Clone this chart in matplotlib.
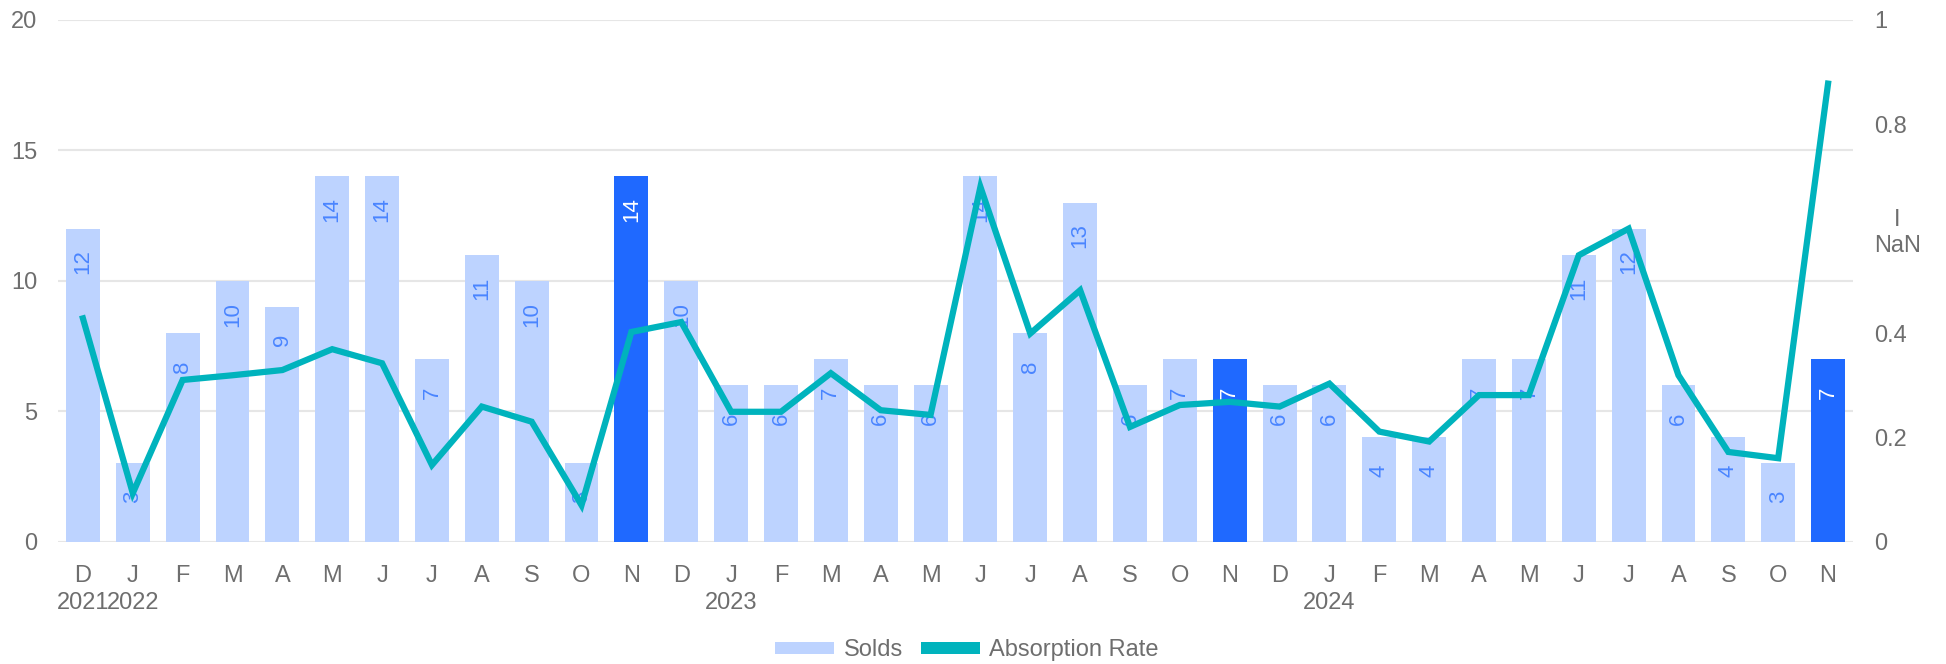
import matplotlib
matplotlib.use("Agg")
import matplotlib.pyplot as plt
from matplotlib.patches import Patch
import numpy as np

plt.rcParams.update({
    'font.family': ['Liberation Sans', 'DejaVu Sans'],
    'font.size': 17,
})

# data
months = ['D', 'J', 'F', 'M', 'A', 'M', 'J', 'J', 'A', 'S', 'O', 'N',
          'D', 'J', 'F', 'M', 'A', 'M', 'J', 'J', 'A', 'S', 'O', 'N',
          'D', 'J', 'F', 'M', 'A', 'M', 'J', 'J', 'A', 'S', 'O', 'N']
years = {0: '2021', 1: '2022', 13: '2023', 25: '2024'}
solds = [12, 3, 8, 10, 9, 14, 14, 7, 11, 10, 3, 14,
         10, 6, 6, 7, 6, 6, 14, 8, 13, 6, 7, 7,
         6, 6, 4, 4, 7, 7, 11, 12, 6, 4, 3, 7]
absorption = [0.428, 0.093, 0.31, 0.319, 0.329, 0.369, 0.342, 0.147, 0.259, 0.23, 0.07, 0.402,
              0.421, 0.249, 0.249, 0.323, 0.252, 0.243, 0.68, 0.399, 0.482, 0.22, 0.262, 0.268,
              0.259, 0.303, 0.211, 0.192, 0.281, 0.281, 0.549, 0.6, 0.319, 0.172, 0.16, 0.878]
highlight = [11, 23, 35]
left_ticks = [0, 5, 10, 15, 20]
right_ticks = [0, 0.2, 0.4, 0.6, 0.8, 1]
right_labels = ['0', '0.2', '0.4', 'I\nNaN', '0.8', '1']

LIGHT = '#BDD3FF'
DARK = '#1F69FF'
TEAL = '#00B3BD'
LABEL_BLUE = '#4A85FF'
GREY = '#6E6E6E'
GRID = '#E6E6E6'

fig = plt.figure(figsize=(19.46, 6.64), dpi=100)
ax = fig.add_axes([0.0298, 0.1842, 0.9224, 0.7857])
x = np.arange(len(solds))
colors = [DARK if i in highlight else LIGHT for i in x]
ax.bar(x, solds, width=0.68, color=colors, zorder=2)

for i, v in enumerate(solds):
    ax.annotate(str(v), (i, v), xytext=(0, -24), textcoords='offset points',
                rotation=90, ha='center', va='center', fontsize=16,
                color='white' if i in highlight else LABEL_BLUE, zorder=3)

ax.set_xlim(-0.5, len(solds) - 0.5)
ax.set_ylim(0, 20)
ax.set_yticks(left_ticks)
ax.yaxis.grid(True, color=GRID, lw=1.5, zorder=0)
ax.set_axisbelow(True)
ticklabels = [m + ('\n' + years[i] if i in years else '') for i, m in enumerate(months)]
ax.set_xticks(x)
ax.set_xticklabels(ticklabels, va='top', ha='center', multialignment='center',
                   linespacing=1.3)
ax.tick_params(axis='x', length=0, pad=17, colors=GREY, labelsize=17)
ax.tick_params(axis='y', length=0, pad=15, colors=GREY, labelsize=17)
for s in ax.spines.values():
    s.set_visible(False)

ax2 = ax.twinx()
ax2.plot(x, absorption, color=TEAL, lw=4.5, solid_joinstyle='miter', zorder=5)
ax2.set_ylim(0, 1)
ax2.set_yticks(right_ticks)
ax2.set_yticklabels(right_labels, multialignment='center')
ax2.tick_params(axis='y', length=0, pad=15, colors=GREY, labelsize=17)
for s in ax2.spines.values():
    s.set_visible(False)

handles = [Patch(facecolor=LIGHT, label='Solds'),
           Patch(facecolor=TEAL, label='Absorption Rate')]
fig.legend(handles=handles, loc='lower center', bbox_to_anchor=(0.497, -0.028),
           ncol=2, frameon=False, fontsize=17, handlelength=2.5, handleheight=0.42,
           handletextpad=0.4, columnspacing=0.75, labelcolor=GREY)

fig.savefig('out.png', dpi=100)
